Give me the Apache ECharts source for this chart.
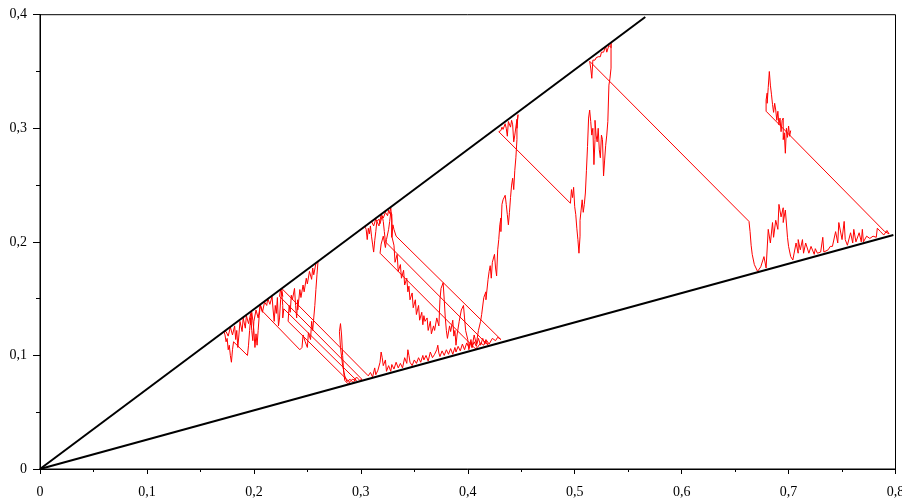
<!DOCTYPE html>
<html>
<head>
<meta charset="utf-8">
<script src="https://cdn.jsdelivr.net/npm/echarts@6/dist/echarts.min.js"></script>
<style>
  html, body { margin: 0; padding: 0; background: #fff; }
  #chart { width: 902px; height: 502px; }
</style>
</head>
<body>
<div id="chart"></div>
<script>
// Wedge boundaries (straight rays from the origin)
const wedgeUpper = [[0, 0], [0.566, 0.398]];
const wedgeLower = [[0, 0], [0.798, 0.206]];

// Axis ticks
const xTicks = [0, 0.1, 0.2, 0.3, 0.4, 0.5, 0.6, 0.7, 0.8];
const yTicks = [0, 0.1, 0.2, 0.3, 0.4];

// Reflected path, in drawing order
const pathA = [
  [0.290,0.076],[0.232,0.130],
  [0.233,0.144],[0.234,0.138],[0.235,0.153],[0.236,0.149],[0.238,0.159],[0.239,0.144],[0.240,0.133],[0.241,0.149],[0.241,0.140],[0.243,0.158],[0.244,0.151],[0.246,0.162],[0.247,0.156],[0.249,0.168],[0.250,0.163],[0.252,0.174],[0.254,0.167],[0.255,0.177],[0.256,0.171],[0.258,0.181],[0.260,0.183],
  [0.259,0.171],[0.258,0.158],[0.257,0.144],[0.256,0.133],[0.255,0.122],[0.254,0.130],[0.253,0.114],[0.251,0.120],[0.250,0.107],[0.248,0.112],[0.246,0.118],[0.245,0.107],[0.243,0.105],
  [0.208,0.139],[0.206,0.145],[0.205,0.135],[0.204,0.122],[0.203,0.109],[0.202,0.119],[0.201,0.107],[0.200,0.122],[0.199,0.131],[0.198,0.138],[0.197,0.127],[0.197,0.133],[0.196,0.122],[0.195,0.109],[0.194,0.100],
  [0.181,0.112],[0.180,0.105],[0.179,0.094],[0.178,0.100],[0.177,0.109],[0.176,0.105],[0.175,0.115],[0.174,0.112],[0.173,0.118],[0.172,0.121],[0.174,0.121],[0.176,0.117],[0.178,0.125],[0.180,0.118],[0.182,0.126],[0.183,0.114],[0.184,0.122],[0.185,0.107],[0.186,0.118],[0.187,0.130],[0.189,0.121],[0.190,0.133],[0.192,0.124],[0.193,0.135],[0.195,0.128],[0.197,0.137],[0.198,0.122],[0.199,0.113],[0.200,0.130],[0.202,0.140],[0.204,0.133],[0.206,0.144],[0.208,0.138],[0.210,0.147],[0.212,0.144],[0.213,0.150],[0.215,0.145],[0.217,0.152],[0.218,0.140],[0.219,0.130],[0.220,0.144],[0.221,0.137],[0.222,0.151],[0.223,0.126],[0.224,0.133],[0.225,0.149],[0.226,0.156],[0.227,0.144],[0.227,0.133],[0.228,0.141],
  [0.296,0.078],[0.292,0.079],[0.288,0.075],[0.285,0.078],[0.284,0.085],[0.283,0.100],[0.282,0.118],[0.281,0.128],[0.280,0.121],[0.281,0.107],[0.283,0.091],[0.285,0.082],[0.287,0.077],[0.290,0.079],[0.293,0.076],[0.296,0.081],[0.299,0.078],[0.301,0.079],
  [0.224,0.152],[0.225,0.158],[0.227,0.152],[0.226,0.159],
  [0.307,0.082]
];

const pathLowerLeft = [
  [0.309,0.085],[0.311,0.081],[0.313,0.089],[0.314,0.083],[0.316,0.087],[0.318,0.094],[0.319,0.103],[0.320,0.098],[0.321,0.091],[0.323,0.096],[0.324,0.086],[0.326,0.091],[0.328,0.086],[0.329,0.092],[0.331,0.088],[0.333,0.094],[0.335,0.089],[0.337,0.093],[0.339,0.089],[0.341,0.098],[0.343,0.093],[0.344,0.105],[0.345,0.100],[0.346,0.094],[0.348,0.091],[0.350,0.096],[0.352,0.093],[0.354,0.098],[0.356,0.094],[0.358,0.100],[0.359,0.096],[0.361,0.100],[0.363,0.095],[0.365,0.103],[0.367,0.098],[0.369,0.101],[0.371,0.105],[0.372,0.109],[0.373,0.102],[0.374,0.099],[0.376,0.104],[0.378,0.100],[0.380,0.105],[0.382,0.101],[0.384,0.106],[0.386,0.101],[0.388,0.107],[0.389,0.103],[0.391,0.108],[0.393,0.104],[0.395,0.110],[0.397,0.105],[0.399,0.111],[0.401,0.107],[0.403,0.114],[0.404,0.107],[0.406,0.112],[0.408,0.108],[0.410,0.115],[0.412,0.109],[0.414,0.115],[0.416,0.110],[0.417,0.113],[0.419,0.109]
];

const pathB = [
  [0.323,0.200],[0.322,0.209],[0.321,0.218],[0.320,0.223],[0.318,0.216],[0.317,0.220],[0.315,0.218],[0.314,0.209],[0.313,0.201],[0.312,0.191],[0.311,0.198],[0.310,0.205],[0.309,0.214],[0.308,0.207],[0.307,0.212],[0.306,0.202],[0.305,0.211],[0.304,0.213],[0.306,0.215],[0.308,0.216],[0.310,0.218],[0.312,0.214],[0.314,0.220],[0.315,0.221],[0.317,0.214],[0.319,0.224],[0.321,0.221],[0.323,0.226],[0.325,0.223],[0.326,0.228],[0.327,0.225],[0.328,0.230],[0.329,0.219],[0.329,0.204],[0.330,0.215],[0.331,0.211],[0.333,0.205],[0.334,0.204],
  [0.431,0.114],[0.428,0.116],[0.426,0.113],[0.423,0.115],[0.420,0.110],[0.417,0.114],[0.415,0.109],[0.412,0.111],[0.409,0.107],[0.407,0.106],
  [0.318,0.190],[0.319,0.198],[0.321,0.205],[0.323,0.195],[0.324,0.202],[0.326,0.211],[0.327,0.218],[0.328,0.226],[0.329,0.224]
];

const pathDescent = [
  [0.329,0.205],[0.331,0.197],[0.332,0.182],[0.334,0.189],[0.335,0.174],[0.337,0.180],[0.338,0.168],[0.340,0.175],[0.341,0.162],[0.343,0.168],[0.344,0.156],[0.345,0.161],[0.346,0.149],[0.348,0.155],[0.349,0.142],[0.351,0.149],[0.352,0.136],[0.354,0.144],[0.355,0.131],[0.357,0.138],[0.358,0.127],[0.359,0.135],[0.360,0.130],[0.362,0.133],[0.363,0.122],[0.365,0.130],[0.366,0.119],[0.368,0.126],[0.369,0.122],[0.371,0.133],[0.373,0.126],[0.374,0.149],[0.375,0.159],[0.377,0.164],[0.378,0.149],[0.379,0.133],[0.380,0.122],[0.381,0.115],[0.383,0.126],[0.384,0.121],[0.386,0.131],[0.387,0.117],[0.388,0.122],[0.389,0.109],[0.390,0.118],[0.392,0.130],[0.394,0.140],[0.396,0.144],[0.397,0.133],[0.398,0.122],[0.400,0.114],[0.401,0.105],[0.403,0.112],[0.404,0.107],[0.406,0.118],[0.408,0.110],[0.410,0.122],[0.412,0.130],[0.413,0.136],[0.415,0.151],[0.417,0.156],[0.417,0.149],[0.419,0.167],[0.420,0.174],[0.421,0.179],[0.422,0.168],[0.423,0.182],[0.425,0.189],[0.426,0.177],[0.427,0.170],[0.428,0.193],[0.429,0.202],[0.430,0.215],[0.431,0.221],[0.431,0.209],[0.432,0.233],[0.433,0.237],[0.435,0.241],[0.436,0.233],[0.437,0.224],[0.438,0.215],[0.439,0.226],[0.440,0.239],[0.441,0.250],[0.442,0.256],[0.443,0.246],[0.444,0.263],[0.445,0.274],[0.446,0.290],[0.446,0.303],[0.447,0.312]
];

const pathMiddle = [
  [0.446,0.300],[0.446,0.308],[0.444,0.294],[0.443,0.288],[0.442,0.303],[0.441,0.307],[0.440,0.301],[0.438,0.306],[0.437,0.293],[0.436,0.300],[0.435,0.304],[0.433,0.299],[0.432,0.301],[0.431,0.298],[0.429,0.297],
  [0.496,0.234],[0.497,0.246],[0.498,0.239],[0.499,0.248],[0.500,0.231],[0.501,0.224],[0.502,0.212],[0.503,0.202],[0.504,0.190],[0.505,0.205],[0.505,0.219],[0.506,0.228],[0.507,0.237],[0.508,0.226],[0.509,0.233],[0.510,0.243],[0.511,0.263],[0.512,0.284],[0.513,0.309],[0.514,0.316],[0.515,0.306],[0.516,0.294],[0.517,0.300],[0.518,0.268],[0.519,0.290],[0.519,0.307],[0.520,0.294],[0.521,0.288],[0.522,0.300],[0.523,0.281],[0.524,0.274],[0.525,0.294],[0.526,0.290],[0.527,0.258],[0.528,0.272],[0.529,0.285],[0.530,0.294],[0.531,0.306],[0.532,0.338],[0.533,0.344],[0.534,0.353],[0.534,0.369],[0.534,0.375],
  [0.534,0.371],[0.532,0.373],[0.530,0.367],[0.529,0.372],[0.527,0.367],[0.525,0.367],[0.524,0.363],[0.522,0.363],[0.520,0.362],[0.519,0.360],[0.517,0.360],[0.516,0.359],[0.516,0.344],[0.515,0.353],[0.514,0.359]
];

const pathLowerRight = [
  [0.663,0.218],[0.664,0.209],[0.665,0.197],[0.666,0.189],[0.668,0.180],[0.671,0.174],[0.674,0.178],[0.677,0.187],[0.679,0.177],[0.681,0.211],[0.683,0.199],[0.685,0.217],[0.686,0.204],[0.688,0.219],[0.690,0.211],[0.691,0.233],[0.693,0.222],[0.695,0.230],[0.695,0.217],[0.697,0.228],[0.699,0.204],[0.700,0.196],[0.702,0.187],[0.704,0.184],[0.707,0.199],[0.709,0.190],[0.709,0.202],[0.711,0.193],[0.713,0.202],[0.714,0.190],[0.716,0.199],[0.719,0.190],[0.721,0.196],[0.724,0.189],[0.725,0.194],[0.727,0.190],[0.730,0.191],[0.732,0.204],[0.733,0.191],[0.737,0.193],[0.739,0.196],[0.741,0.196],[0.744,0.209],[0.746,0.199],[0.747,0.217],[0.750,0.202],[0.752,0.218],[0.753,0.202],[0.755,0.197],[0.758,0.208],[0.760,0.199],[0.761,0.211],[0.763,0.200],[0.766,0.208],[0.768,0.200],[0.769,0.211],[0.770,0.200],[0.773,0.205],[0.776,0.203],[0.779,0.205],[0.782,0.204],[0.783,0.212],[0.786,0.209],[0.789,0.206],[0.792,0.210],[0.794,0.207],[0.790,0.209]
];

const pathE = [
  [0.679,0.315],[0.679,0.325],[0.680,0.331],[0.680,0.322],[0.681,0.336],[0.682,0.350],[0.683,0.338],[0.684,0.330],[0.685,0.321],[0.686,0.314],[0.687,0.322],[0.688,0.316],[0.689,0.307],[0.690,0.315],[0.691,0.303],[0.692,0.309],[0.693,0.297],[0.694,0.307],[0.695,0.309],[0.695,0.290],[0.696,0.296],[0.697,0.278],[0.698,0.300],[0.699,0.292],[0.700,0.302],[0.701,0.293],[0.702,0.298]
];

const path = [].concat(pathA, pathLowerLeft, pathB, pathDescent, pathMiddle, pathLowerRight, pathE);

const serif = 'Liberation Serif';
const fmt = v => (v === 0 ? '0' : v.toFixed(1).replace('.', ','));

const chart = echarts.init(document.getElementById('chart'), null, { renderer: 'canvas' });
chart.setOption({
  animation: false,
  backgroundColor: '#fff',
  grid: {
    left: 40, right: 6.5, top: 14.7, bottom: 33,
    show: true, borderColor: '#000', borderWidth: 1,
    containLabel: false, outerBoundsMode: 'none'
  },
  xAxis: {
    type: 'value', min: xTicks[0], max: xTicks[xTicks.length - 1], interval: 0.1,
    axisLine: { show: true, lineStyle: { color: '#000', width: 1 } },
    axisTick: { show: true, length: 5, lineStyle: { color: '#000' } },
    minorTick: { show: true, splitNumber: 2, length: 3, lineStyle: { color: '#000' } },
    splitLine: { show: false },
    axisLabel: { color: '#000', fontFamily: serif, fontSize: 14, margin: 16, formatter: fmt }
  },
  yAxis: {
    type: 'value', min: yTicks[0], max: yTicks[yTicks.length - 1], interval: 0.1,
    axisLine: { show: true, lineStyle: { color: '#000', width: 1 } },
    axisTick: { show: true, length: 7, lineStyle: { color: '#000' } },
    minorTick: { show: true, splitNumber: 2, length: 4, lineStyle: { color: '#000' } },
    splitLine: { show: false },
    axisLabel: { color: '#000', fontFamily: serif, fontSize: 14, margin: 13, formatter: fmt }
  },
  series: [
    {
      type: 'line', data: path, showSymbol: false, silent: true,
      lineStyle: { color: '#f00', width: 1 }, z: 2
    },
    {
      type: 'line', data: wedgeUpper, showSymbol: false, silent: true,
      lineStyle: { color: '#000', width: 2 }, z: 3
    },
    {
      type: 'line', data: wedgeLower, showSymbol: false, silent: true,
      lineStyle: { color: '#000', width: 2 }, z: 3
    }
  ]
});
</script>
</body>
</html>
